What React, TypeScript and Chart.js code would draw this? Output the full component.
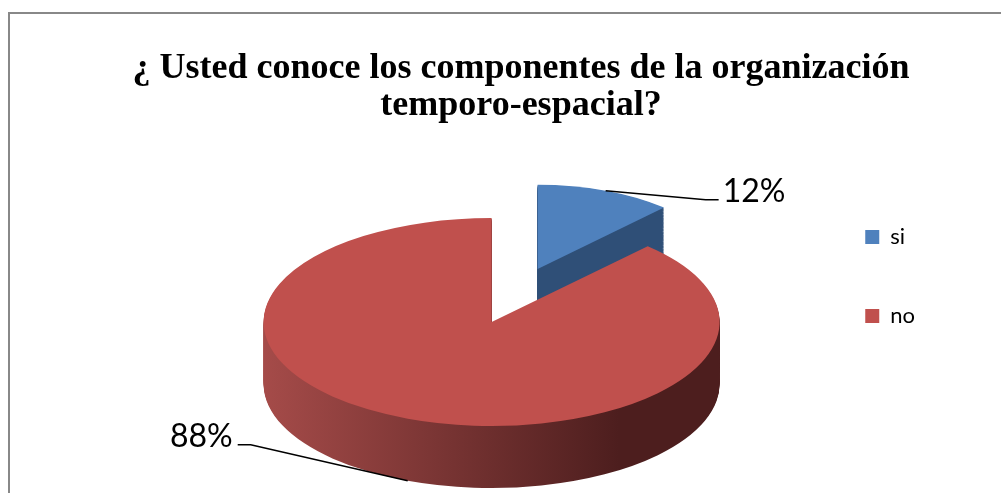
import React, { useEffect, useRef } from "react";
import { Chart, registerables } from "chart.js";

Chart.register(...registerables);

// ---- data ----
const TITLE_LINES = ["¿ Usted conoce los componentes de la organización", "temporo-espacial?"];
const CATEGORIES = ["si", "no"];
const VALUES = [12, 88];
const COLORS = ["#4f81bd", "#c0504d"];
const SIDE_SHADES = [
  ["#2f4f77", "#2f4f77"],
  ["#a54b49", "#4d1e1e"],
];
const EXPLODE = [125, 0];

// ---- style / layout ----
const TILT = 0.456; // vertical squash of the pie (3D view)
const DEPTH = 62; // px thickness of the pie
const FAR_SCALE = 0.81; // perspective shrink of exploded (far) slices
const RADIUS = 228;
const LEADERS = [
  { dx: 100, dy: 9, tail: 13 },
  { dx: -157, dy: -36, tail: -13 },
];
const LABEL_FONT = '32px "Lato", "Open Sans", sans-serif';

function geom(el: any) {
  const h = (el.startAngle + el.endAngle) / 2;
  const explode = el.options.offset || 0;
  const s = explode > 0 ? FAR_SCALE : 1;
  const ex = Math.cos(h) * explode;
  const ey = Math.sin(h) * explode * TILT;
  return { h, s, ex, ey };
}

const pie3d = {
  id: "pie3d",
  beforeDatasetsDraw(chart: any) {
    const ctx = chart.ctx;
    const meta = chart.getDatasetMeta(0);
    meta.data.forEach((el: any, i: number) => {
      if (!chart.getDataVisibility(i)) return;
      const { x, y, outerRadius } = el;
      const { s, ex, ey } = geom(el);
      const grad = ctx.createLinearGradient(x - outerRadius, 0, x + outerRadius, 0);
      grad.addColorStop(0, SIDE_SHADES[i][0]);
      grad.addColorStop(0.78, SIDE_SHADES[i][1]);
      grad.addColorStop(1, SIDE_SHADES[i][1]);
      const flat = Object.create(el);
      flat.options = { ...el.options, offset: 0, borderWidth: 0 };
      const side = Object.create(el);
      side.options = { ...el.options, offset: 0, borderWidth: 0, backgroundColor: grad };
      for (let d = DEPTH; d >= 1; d--) {
        ctx.save();
        ctx.translate(x + ex, y + ey + d * s);
        ctx.scale(s, s * TILT);
        ctx.translate(-x, -y);
        side.draw(ctx);
        ctx.restore();
      }
      ctx.save();
      ctx.translate(x + ex, y + ey);
      ctx.scale(s, s * TILT);
      ctx.translate(-x, -y);
      flat.draw(ctx);
      ctx.restore();
    });
    return false;
  },
  afterDraw(chart: any) {
    const ctx = chart.ctx;
    const meta = chart.getDatasetMeta(0);
    const data = chart.data.datasets[0].data as number[];
    const total = data.reduce((a, b) => a + b, 0);
    meta.data.forEach((el: any, i: number) => {
      if (!chart.getDataVisibility(i)) return;
      const { x, y, outerRadius } = el;
      const { h, s, ex, ey } = geom(el);
      const ax = x + ex + s * outerRadius * Math.cos(h);
      const ay = y + ey + s * TILT * outerRadius * Math.sin(h) + (Math.sin(h) > 0 ? DEPTH * s : 0);
      const L = LEADERS[i];
      const bx = ax + L.dx;
      const by = ay + L.dy;
      const cx = bx + L.tail;
      ctx.save();
      ctx.strokeStyle = "#000";
      ctx.lineWidth = 1.5;
      ctx.beginPath();
      ctx.moveTo(ax, ay);
      ctx.lineTo(bx, by);
      ctx.lineTo(cx, by);
      ctx.stroke();
      ctx.fillStyle = "#000";
      ctx.font = LABEL_FONT;
      ctx.textBaseline = "alphabetic";
      const right = L.tail > 0;
      ctx.textAlign = right ? "left" : "right";
      const pct = Math.round((data[i] / total) * 100) + "%";
      ctx.fillText(pct, cx + (right ? 4 : -5), by + 2);
      ctx.restore();
    });
  },
};

export default function App() {
  const ref = useRef<HTMLCanvasElement | null>(null);
  useEffect(() => {
    if (!ref.current) return;
    const chart = new Chart(ref.current, {
      type: "pie",
      data: {
        labels: CATEGORIES,
        datasets: [
          {
            data: VALUES,
            backgroundColor: COLORS,
            borderWidth: 0,
            offset: EXPLODE,
            radius: RADIUS,
            clip: false,
          } as any,
        ],
      },
      options: {
        responsive: false,
        animation: false,
        devicePixelRatio: 1,
        layout: { padding: { left: 175, right: 76, top: 169, bottom: 18 } },
        plugins: {
          title: { display: false },
          tooltip: { enabled: false },
          legend: {
            position: "right",
            align: "start",
            fullSize: false,
            labels: {
              boxWidth: 14,
              boxHeight: 14,
              padding: 57,
              color: "#000",
              font: { family: "Lato", size: 22 },
            },
          },
        },
      } as any,
      plugins: [pie3d as any],
    });
    return () => chart.destroy();
  }, []);

  return (
    <div style={{ position: "absolute", left: 0, top: 0, width: 1001, height: 493, overflow: "hidden", background: "#fff" }}>
      <div
        style={{
          position: "absolute",
          left: 8,
          top: 12,
          width: 1200,
          height: 700,
          borderLeft: "2px solid #888",
          borderTop: "2px solid #888",
          boxSizing: "border-box",
        }}
      />
      <canvas ref={ref} width={1001} height={493} style={{ position: "absolute", left: 0, top: 0, width: 1001, height: 493 }} />
      <div
        style={{
          position: "absolute",
          left: 0,
          top: 48,
          width: 1042,
          textAlign: "center",
          fontFamily: '"Liberation Serif", "Times New Roman", serif',
          fontWeight: "bold",
          fontSize: 36,
          lineHeight: "37px",
          color: "#000",
          whiteSpace: "nowrap",
        }}
      >
        {TITLE_LINES.map((t) => (
          <div key={t}>{t}</div>
        ))}
      </div>
    </div>
  );
}
